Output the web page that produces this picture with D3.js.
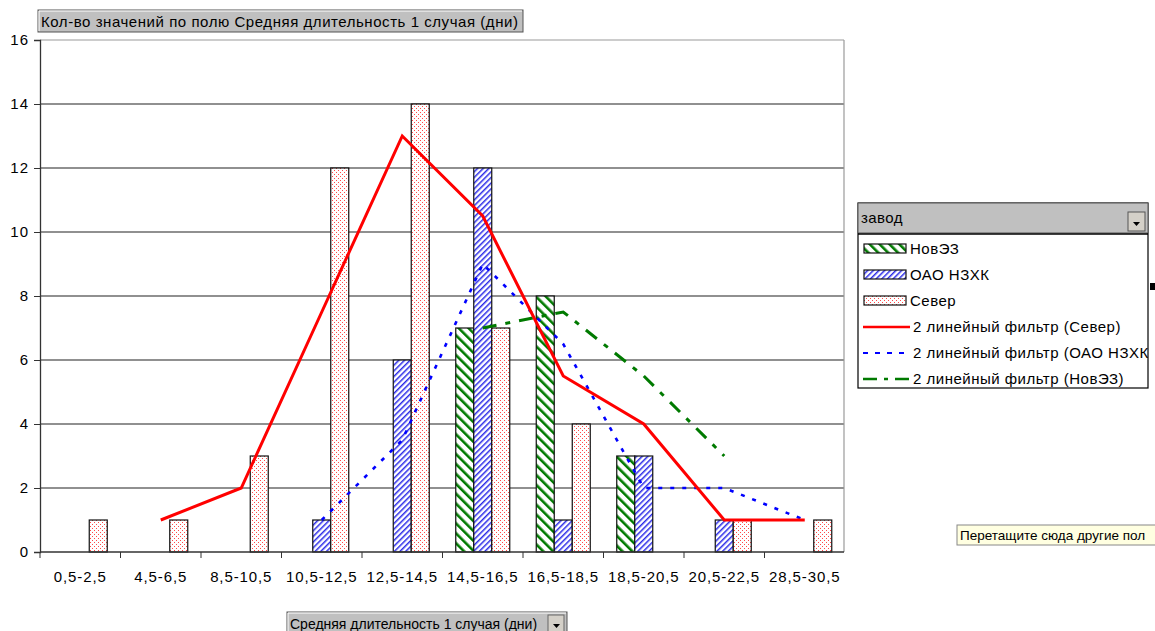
<!DOCTYPE html>
<html>
<head>
<meta charset="utf-8">
<script src="https://cdn.jsdelivr.net/npm/d3@7"></script>
<style>
  body { margin: 0; background: #fff; }
  svg { display: block; font-family: 'Liberation Sans', Arial, sans-serif; }
</style>
</head>
<body>
<svg id="grafico"></svg>
<script>
// данные
const categorias = ['0,5-2,5', '4,5-6,5', '8,5-10,5', '10,5-12,5', '12,5-14,5',
    '14,5-16,5', '16,5-18,5', '18,5-20,5', '20,5-22,5', '28,5-30,5'];
const novEZ = [null, null, null, null, null, 7, 8, 3, null, null];
const nzhk = [null, null, null, 1, 6, 12, 1, 3, 1, null];
const sever = [1, 1, 3, 12, 14, 7, 4, null, 1, 1];
const filtroSever = [null, 1, 2, 7.5, 13, 10.5, 5.5, 4, 1, 1];
const filtroNzhk = [null, null, null, 1, 3.5, 9, 6.5, 2, 2, 1];
const filtroNovEZ = [null, null, null, null, null, 7, 7.5, 5.5, 3, null];
const ticksY = [0, 2, 4, 6, 8, 10, 12, 14, 16];
const nomesSeries = ['НовЭЗ', 'ОАО НЗХК', 'Север'];

const largura = 1155, altura = 631;
const svg = d3.select('#grafico').attr('width', largura).attr('height', altura);

const area = { esquerda: 40, direita: 844, superior: 40, inferior: 552 };

// padrões
const defs = svg.append('defs');
let p = defs.append('pattern').attr('id', 'pNovEZ').attr('patternUnits', 'userSpaceOnUse')
    .attr('width', 7).attr('height', 7).attr('patternTransform', 'rotate(-45)');
p.append('rect').attr('width', 7).attr('height', 7).attr('fill', '#fff');
p.append('rect').attr('width', 2.6).attr('height', 7).attr('fill', '#007a00');

p = defs.append('pattern').attr('id', 'pNzhk').attr('patternUnits', 'userSpaceOnUse')
    .attr('width', 4).attr('height', 4).attr('patternTransform', 'rotate(45)');
p.append('rect').attr('width', 4).attr('height', 4).attr('fill', '#fff');
p.append('rect').attr('width', 1.5).attr('height', 4).attr('fill', '#2a2ae8');

p = defs.append('pattern').attr('id', 'pSever').attr('patternUnits', 'userSpaceOnUse')
    .attr('width', 4).attr('height', 4);
p.append('rect').attr('width', 4).attr('height', 4).attr('fill', '#fff');
p.append('rect').attr('x', 0).attr('y', 0).attr('width', 1).attr('height', 1).attr('fill', '#ff4a4a');
p.append('rect').attr('x', 2).attr('y', 2).attr('width', 1).attr('height', 1).attr('fill', '#ff4a4a');

const preenchimentos = ['url(#pNovEZ)', 'url(#pNzhk)', 'url(#pSever)'];

const fnX = d3.scaleBand().domain(categorias).range([area.esquerda, area.direita + 1]);
const fnGrupo = d3.scaleBand().domain(nomesSeries).range([-27, 27]);
const fnY = d3.scaleLinear().domain([0, 16]).range([area.inferior, area.superior]);

// grade
svg.append('g').selectAll('line').data(ticksY.filter(d => d > 0)).join('line')
    .attr('x1', area.esquerda).attr('x2', area.direita)
    .attr('y1', d => fnY(d)).attr('y2', d => fnY(d))
    .attr('stroke', d => d === 16 ? '#9a9a9a' : '#222').attr('stroke-width', 1.2);
svg.append('line').attr('x1', area.direita).attr('x2', area.direita)
    .attr('y1', area.superior).attr('y2', area.inferior)
    .attr('stroke', '#9a9a9a').attr('stroke-width', 1.2);

// barras
const dadosBarras = [];
[novEZ, nzhk, sever].forEach((serie, s) => {
    serie.forEach((v, i) => {
        if (v !== null) dadosBarras.push({ cat: categorias[i], serie: nomesSeries[s], valor: v, s: s });
    });
});
svg.append('g').selectAll('rect').data(dadosBarras).join('rect')
    .attr('x', d => fnX(d.cat) + fnX.bandwidth() / 2 + fnGrupo(d.serie))
    .attr('y', d => fnY(d.valor))
    .attr('width', fnGrupo.bandwidth())
    .attr('height', d => fnY(0) - fnY(d.valor))
    .attr('fill', d => preenchimentos[d.s])
    .attr('stroke', '#111').attr('stroke-width', 1.2);

// eixos
const eixoY = d3.axisLeft(fnY).tickValues(ticksY).tickSize(6).tickPadding(5);
const gY = svg.append('g').attr('transform', 'translate(' + area.esquerda + ',0)').call(eixoY);
gY.select('.domain').attr('stroke', '#333').attr('stroke-width', 1.3);
gY.selectAll('.tick line').attr('stroke', '#333');
gY.selectAll('text').style('font-size', '15px').style('letter-spacing', '1px').attr('fill', '#000');

const eixoX = d3.axisBottom(fnX).tickSize(0).tickPadding(19);
const gX = svg.append('g').attr('transform', 'translate(0,' + area.inferior + ')').call(eixoX);
gX.select('.domain').attr('stroke', '#333').attr('stroke-width', 1.3)
    .attr('d', 'M' + area.esquerda + ',0H' + area.direita);
gX.selectAll('text').style('font-size', '15px').style('letter-spacing', '0.9px').attr('fill', '#000');
gX.selectAll('.divisao').data(categorias).join('line').classed('divisao', true)
    .attr('x1', d => fnX(d)).attr('x2', d => fnX(d))
    .attr('y1', 0).attr('y2', 6).attr('stroke', '#333');

// linhas de filtro
const linha = d3.line()
    .defined(d => d.v !== null)
    .x(d => fnX(d.cat) + fnX.bandwidth() / 2)
    .y(d => fnY(d.v));
const filtros = [
    { dados: filtroSever, cor: '#ff0000', traco: null, largura: 3 },
    { dados: filtroNzhk, cor: '#0000ff', traco: '4,8', largura: 2.6 },
    { dados: filtroNovEZ, cor: '#007a00', traco: '14,9,5,9', largura: 3 }
];
filtros.slice().reverse().forEach(f => {
    svg.append('path')
        .datum(f.dados.map((v, i) => ({ cat: categorias[i], v: v })))
        .attr('d', linha)
        .attr('fill', 'none')
        .attr('stroke', f.cor)
        .attr('stroke-width', f.largura)
        .attr('stroke-dasharray', f.traco);
});

// botões
function botao(x, y, w, h, texto, seta, tamanho, espaco) {
    const g = svg.append('g');
    g.append('rect').attr('x', x).attr('y', y).attr('width', w).attr('height', h)
        .attr('fill', '#c0c0c0').attr('stroke', '#555');
    g.append('path').attr('d', 'M' + (x + 1) + ',' + (y + h - 1) + 'V' + (y + 1) + 'H' + (x + w - 1))
        .attr('stroke', '#fff').attr('fill', 'none');
    g.append('text').attr('x', x + 3).attr('y', y + 17).text(texto)
        .style('font-size', tamanho).style('letter-spacing', espaco).attr('fill', '#000');
    if (seta) {
        const bx = x + w - 19, by = y + 3;
        g.append('rect').attr('x', bx).attr('y', by).attr('width', 16).attr('height', h - 5)
            .attr('fill', '#d4d0c8').attr('stroke', '#666');
        g.append('path').attr('d', 'M' + (bx + 5) + ',' + (by + 9) + 'h7l-3.5,4z').attr('fill', '#000');
    }
    return g;
}
botao(38, 10, 485, 22, 'Кол-во значений по полю Средняя длительность 1 случая (дни)', false, '15px', '0.55px');
botao(287, 612, 280, 24, 'Средняя длительность 1 случая (дни)', true, '14px', '0px');

// legenda
const leg = { x: 858, y: 203, w: 290, h: 185 };
defs.append('clipPath').attr('id', 'clipLegenda').append('rect')
    .attr('x', leg.x).attr('y', leg.y).attr('width', leg.w).attr('height', leg.h);
svg.append('rect').attr('x', leg.x).attr('y', leg.y).attr('width', leg.w).attr('height', leg.h)
    .attr('fill', '#fff').attr('stroke', '#000').attr('stroke-width', 1.2);
const gLeg = svg.append('g').attr('clip-path', 'url(#clipLegenda)');
gLeg.append('rect').attr('x', leg.x).attr('y', leg.y).attr('width', leg.w).attr('height', 30)
    .attr('fill', '#c0c0c0').attr('stroke', '#555');
gLeg.append('text').attr('x', leg.x + 3).attr('y', leg.y + 20).text('завод')
    .style('font-size', '15px').style('letter-spacing', '0.4px');
gLeg.append('rect').attr('x', leg.x + leg.w - 20).attr('y', leg.y + 9).attr('width', 17).attr('height', 19)
    .attr('fill', '#d4d0c8').attr('stroke', '#555');
gLeg.append('path').attr('d', 'M' + (leg.x + leg.w - 15) + ',' + (leg.y + 19) + 'h7l-3.5,4z').attr('fill', '#000');
gLeg.append('line').attr('x1', leg.x).attr('x2', leg.x + leg.w).attr('y1', leg.y + 31).attr('y2', leg.y + 31)
    .attr('stroke', '#000').attr('stroke-width', 1.5);

const itensLegenda = [
    { texto: 'НовЭЗ', barra: 0 },
    { texto: 'ОАО НЗХК', barra: 1 },
    { texto: 'Север', barra: 2 },
    { texto: '2 линейный фильтр (Север)', filtro: 0 },
    { texto: '2 линейный фильтр (ОАО НЗХК)', filtro: 1 },
    { texto: '2 линейный фильтр (НовЭЗ)', filtro: 2 }
];
itensLegenda.forEach((it, i) => {
    const cy = leg.y + 46 + i * 26;
    if (it.barra !== undefined) {
        gLeg.append('rect').attr('x', leg.x + 6).attr('y', cy - 5).attr('width', 42).attr('height', 9)
            .attr('fill', preenchimentos[it.barra]).attr('stroke', '#111').attr('stroke-width', 1.2);
    } else {
        const f = filtros[it.filtro];
        gLeg.append('line').attr('x1', leg.x + 5).attr('x2', leg.x + 52).attr('y1', cy).attr('y2', cy)
            .attr('stroke', f.cor).attr('stroke-width', f.largura - 0.5)
            .attr('stroke-dasharray', it.filtro === 1 ? '5,7' : it.filtro === 2 ? '14,7,4,7' : null);
    }
    gLeg.append('text').attr('x', leg.x + (it.barra !== undefined ? 52 : 55)).attr('y', cy + 5)
        .text(it.texto).style('font-size', '15px').style('letter-spacing', '0.5px');
});
svg.append('rect').attr('x', 1150).attr('y', 283).attr('width', 5).attr('height', 7).attr('fill', '#000');

// dica
svg.append('rect').attr('x', 957).attr('y', 525).attr('width', 205).attr('height', 20)
    .attr('fill', '#ffffe1').attr('stroke', '#888');
svg.append('text').attr('x', 960).attr('y', 540).text('Перетащите сюда другие пол')
    .style('font-size', '13.5px');
</script>
</body>
</html>
